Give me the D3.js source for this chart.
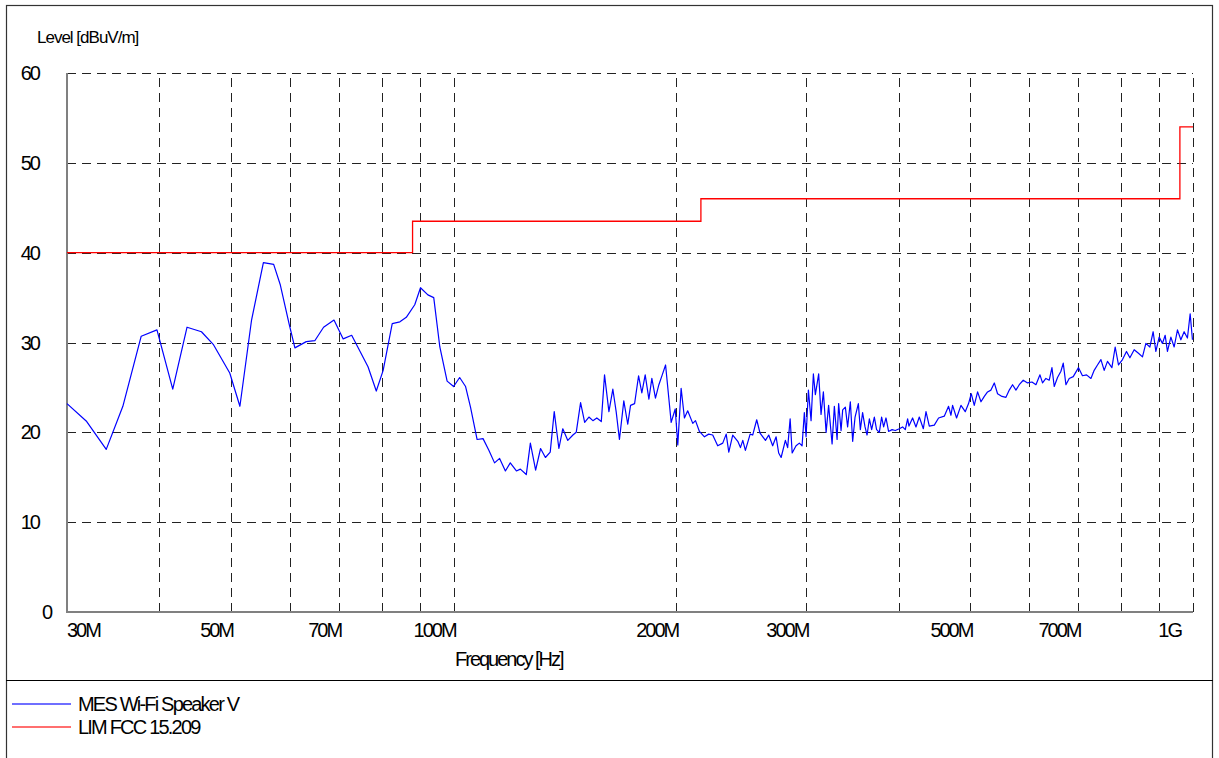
<!DOCTYPE html>
<html><head><meta charset="utf-8">
<script src="https://cdn.jsdelivr.net/npm/d3@7"></script>
<style>
body{margin:0;background:#fff}
text{font-family:"Liberation Sans",Arial,sans-serif;fill:#000}
</style>
</head><body><svg id="c" width="1219" height="758"></svg>
<script>
// Measured series: frequency (MHz) and level (dBuV/m)
const freqMHz = [30.0,31.9,33.9,35.7,37.8,39.7,41.7,43.6,45.6,47.3,49.8,51.4,53.3,54.7,55.3,57.1,58.3,59.9,61.0,63.2,64.9,66.7,68.9,70.9,72.8,76.6,78.6,80.3,82.6,84.6,86.3,88.6,90.2,92.3,94.0,95.8,98.0,100.0,101.9,103.8,105.4,107.6,109.6,111.6,113.6,115.4,117.5,119.3,121.6,123.1,125.4,127.0,129.1,131.1,133.1,135.1,136.8,138.8,140.5,142.7,145.0,146.5,148.5,150.4,152.4,154.3,156.2,158.4,160.0,162.2,164.2,165.9,167.6,169.9,172.0,173.5,175.7,177.9,179.7,181.6,183.7,185.4,187.5,189.5,191.5,193.5,196.9,199.4,201.0,203.1,205.2,207.3,210.6,212.4,215.0,218.4,221.3,224.1,227.6,231.2,233.7,235.6,238.5,242.3,244.3,246.1,248.1,251.8,253.8,257.0,259.7,264.1,266.8,270.1,273.0,275.2,277.3,281.0,283.0,285.2,287.0,290.5,293.5,296.0,298.1,299.7,301.9,304.4,306.6,308.5,311.7,314.0,316.3,319.0,321.5,325.0,327.3,330.1,331.7,334.2,335.9,338.7,341.1,344.0,346.5,349.1,352.7,354.9,357.4,360.1,362.4,365.0,367.6,370.7,373.3,376.5,379.2,381.6,384.4,387.5,391.7,395.7,400.7,404.8,408.2,411.2,412.9,417.6,422.0,426.4,431.8,435.4,439.9,446.8,452.8,460.9,467.1,470.6,473.0,478.9,485.5,492.0,497.1,501.3,506.0,511.3,516.7,522.1,527.4,533.0,538.6,544.1,551.6,558.5,564.3,570.1,576.2,582.1,589.4,597.4,605.6,613.2,620.9,625.9,632.5,639.1,644.5,649.1,655.8,662.8,667.6,673.2,680.1,688.7,700.1,708.8,717.8,727.7,735.1,742.7,750.7,758.4,766.2,776.8,784.8,792.9,802.9,812.9,821.6,832.6,843.8,854.4,863.5,874.4,883.3,890.8,900.0,909.3,917.0,923.5,933.4,943.0,952.8,962.9,972.8,982.8,991.2,998.3];
const levelDb = [23.2,21.2,18.1,22.9,30.7,31.4,24.8,31.7,31.2,29.8,26.6,22.9,32.5,37.0,38.9,38.7,36.4,32.1,29.4,30.1,30.2,31.7,32.5,30.4,30.8,27.3,24.6,26.9,32.1,32.3,32.8,34.2,36.1,35.3,35.0,29.5,25.7,25.1,26.1,25.1,22.8,19.2,19.3,18.0,16.6,17.1,15.7,16.6,15.7,15.9,15.3,18.8,15.8,18.2,17.2,17.8,22.3,18.2,20.4,19.1,19.7,20.0,23.3,21.1,21.7,21.3,21.6,21.2,26.4,22.3,24.8,22.3,19.2,23.5,20.9,23.0,23.2,26.3,24.4,26.4,23.7,26.0,23.8,25.3,26.4,27.5,21.1,22.6,18.6,24.9,21.6,22.4,21.0,21.3,20.1,19.5,19.8,19.7,18.5,18.8,19.8,17.8,19.7,19.0,18.3,19.1,18.0,19.8,19.7,21.4,19.9,19.1,19.7,18.5,19.5,17.7,17.2,19.1,18.3,21.5,17.7,18.5,18.8,18.5,22.2,19.5,24.7,21.3,26.5,24.2,26.5,22.0,24.5,20.0,23.0,18.7,22.9,19.2,23.2,20.2,22.5,22.8,20.6,23.4,19.0,21.7,23.2,20.3,22.2,20.6,19.7,21.5,20.3,21.7,20.3,20.0,21.7,20.6,21.6,20.1,20.3,20.2,20.4,20.6,20.3,21.5,20.7,21.6,20.6,21.7,20.4,22.3,20.7,20.8,21.6,21.8,22.9,21.9,23.0,21.6,23.0,22.3,23.2,24.3,23.0,24.5,23.4,24.0,24.5,24.7,25.5,24.3,24.0,23.9,24.7,25.3,24.7,25.3,25.8,25.5,25.6,25.3,26.4,25.5,26.0,25.8,27.2,25.1,26.1,26.8,27.7,25.3,26.0,26.2,27.2,26.3,26.4,26.0,26.9,27.5,28.1,26.9,27.9,27.2,29.5,27.5,28.1,29.0,28.3,29.2,28.8,28.4,29.9,29.5,31.2,29.0,30.6,29.9,30.8,29.0,30.6,29.5,31.4,30.3,31.2,30.5,33.2,30.3];
// Limit FCC 15.209 (step after)
const limitFreqMHz = [30, 88, 216, 960, 1000];
const limitDb = [40, 43.5, 46, 54, 54];
// Axes
const yTicks = [0,10,20,30,40,50,60];
const xGridMHz = [40,50,60,70,80,90,100,200,300,400,500,600,700,800,900,1000];
const xLabelMHz = [30,50,70,100,200,300,500,700,1000];
const xLabelText = ["30M","50M","70M","100M","200M","300M","500M","700M","1G"];
const seriesNames = ["MES Wi-Fi Speaker V","LIM FCC 15.209"];
const seriesColors = ["#0000ff","#ff0000"];

const svg = d3.select("#c");
const L = 67, R = 1193, T = 73, B = 612;
const x = d3.scaleLog().domain([30, 1000]).range([L, R]);
const y = d3.scaleLinear().domain([0, 60]).range([B, T]);

// outer frame
svg.append("rect").attr("x",6.5).attr("y",5.5).attr("width",1206).attr("height",770)
  .attr("fill","none").attr("stroke","#333").attr("stroke-width",1.2);
svg.append("line").attr("x1",6).attr("x2",1213).attr("y1",680.5).attr("y2",680.5)
  .attr("stroke","#000").attr("stroke-width",1.2);

// grids
const gy = svg.append("g").attr("transform",`translate(${L},0)`)
  .call(d3.axisLeft(y).tickValues(yTicks.filter(d=>d>0)).tickSize(-(R-L)).tickFormat(""));
const gx = svg.append("g").attr("transform",`translate(0,${B})`)
  .call(d3.axisBottom(x).tickValues(xGridMHz).tickSize(-(B-T)).tickFormat(""));
[gx,gy].forEach(g=>{
  g.select(".domain").remove();
  g.selectAll(".tick line").attr("stroke","#222").attr("stroke-width",1)
    .attr("stroke-dasharray","9,6").attr("shape-rendering","crispEdges");
});

// axis lines
svg.append("line").attr("x1",L).attr("x2",L).attr("y1",T).attr("y2",B+1)
  .attr("stroke","#808080").attr("stroke-width",2);
svg.append("line").attr("x1",L-1).attr("x2",R).attr("y1",B).attr("y2",B)
  .attr("stroke","#808080").attr("stroke-width",2);

// y labels
svg.append("g").selectAll("text").data(yTicks).join("text")
  .attr("x", d => d===0 ? 51 : 39)
  .attr("y", d => y(d) + 7)
  .attr("text-anchor","end")
  .attr("font-size",20).attr("letter-spacing",-2)
  .text(d => d);

// x labels
svg.append("g").selectAll("text").data(xLabelMHz).join("text")
  .attr("x", (d,i) => i===0 ? x(d) : (d===1000 ? x(d)-12 : x(d)+2))
  .attr("y", 637)
  .attr("text-anchor", (d,i) => i===0 ? "start" : "end")
  .attr("font-size",20).attr("letter-spacing",-2)
  .text((d,i) => xLabelText[i]);

// titles
svg.append("text").attr("x",37).attr("y",43).attr("font-size",17).attr("letter-spacing",-1)
  .text("Level [dBuV/m]");
svg.append("text").attr("x",455).attr("y",666).attr("font-size",20).attr("letter-spacing",-2)
  .text("Frequency [Hz]");

// limit line
const limitPts = limitFreqMHz.map((f,i)=>[f,limitDb[i]]);
svg.append("path").datum(limitPts)
  .attr("d", d3.line().x(d=>x(d[0])).y(d=>y(d[1])).curve(d3.curveStepAfter))
  .attr("fill","none").attr("stroke",seriesColors[1]).attr("stroke-width",1.3);

// measured line
const pts = freqMHz.map((f,i)=>[f,levelDb[i]]);
svg.append("path").datum(pts)
  .attr("d", d3.line().x(d=>x(d[0])).y(d=>y(d[1])))
  .attr("fill","none").attr("stroke",seriesColors[0]).attr("stroke-width",1.2)
  .attr("stroke-linejoin","round");

// legend
const lg = svg.append("g").selectAll("g").data(seriesNames).join("g")
  .attr("transform",(d,i)=>`translate(0,${704 + i*23})`);
lg.append("line").attr("x1",12).attr("x2",71).attr("y1",0).attr("y2",0)
  .attr("stroke",(d,i)=>seriesColors[i]).attr("stroke-width",1.3).attr("opacity",0.75);
lg.append("text").attr("x",78).attr("y",7).attr("font-size",20).attr("letter-spacing",-1.8)
  .text(d=>d);
</script>
</body></html>
